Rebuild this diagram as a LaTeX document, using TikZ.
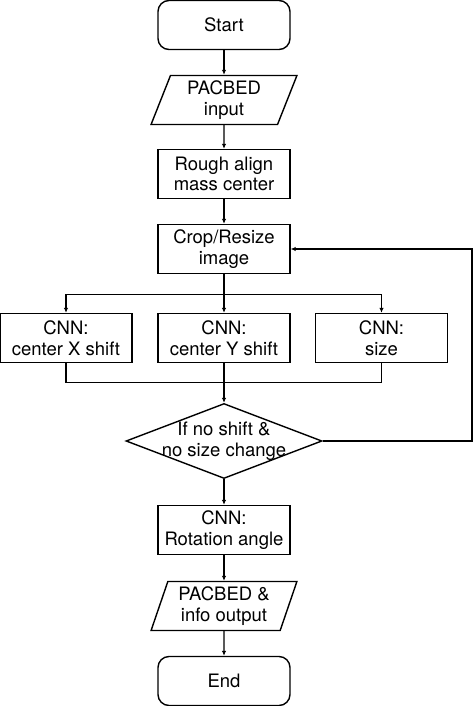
\documentclass[tikz,border=0pt]{standalone}
\usepackage{fontspec}
\setmainfont{TeX Gyre Heros}
\usetikzlibrary{shapes.geometric,arrows.meta}

\begin{document}
\begin{tikzpicture}[node distance=75pt, font=\fontsize{18.5}{20.5}\selectfont]

            % Styly uzlů a šipek
            \tikzstyle{startstop} = [rectangle, rounded corners=11pt, minimum width=132pt, minimum height=49pt, text centered, draw=black, line width=1.4pt]
            \tikzstyle{process} = [rectangle, minimum width=132pt, minimum height=49pt, align=center, draw=black, line width=1.4pt]
            \tikzstyle{data} = [trapezium, trapezium left angle=72, trapezium right angle=108, trapezium stretches=true, minimum width=146pt, minimum height=49pt, align=center, draw=black, line width=1.4pt]
            \tikzstyle{decision} = [diamond, minimum width=196pt, minimum height=75pt, inner sep=0pt, draw=black, line width=1.4pt]
            \tikzstyle{arrow} = [line width=1.4pt, -{Latex[length=5pt,width=4.5pt]}]
            \tikzstyle{line} = [line width=1.4pt]

            \useasboundingbox (-224pt,25pt) rectangle (250pt,-681pt);

            % Uzly diagramu
            \node (start) [startstop] {Start};
            \node (input) [data, below of=start] {PACBED\\input};
            \node (rough) [process, below of=input, yshift=1pt] {Rough align\\mass center};
            \node (crop) [process, below of=rough] {Crop/Resize\\image};
            \node (cnny) [process, below of=crop, yshift=-14pt] {CNN:\\center Y shift};
            \node (cnnx) [process, left of=cnny, xshift=-83pt] {CNN:\\center X shift};
            \node (cnns) [process, right of=cnny, xshift=82.5pt] {CNN:\\size};
            \node (decide) [decision, below of=cnny, yshift=-28pt, label={[align=center]center:If no shift \&\\no size change}] {};
            \node (rotation) [process, below of=decide, yshift=-14pt] {CNN:\\Rotation angle};
            \node (output) [data, below of=rotation, yshift=-1pt] {PACBED \&\\info output};
            \node (end) [startstop, below of=output] {End};

            % Pomocné body
            \coordinate (split) at ([yshift=-20pt]crop.south);
            \coordinate (merge) at ([yshift=-19pt]cnny.south);
            \coordinate (loop) at (248pt,0);

            % Šipky propojující uzly
            \draw [arrow] (start) -- (input);
            \draw [arrow] (input) -- (rough);
            \draw [arrow] (rough) -- (crop);
            \draw [line] (crop.south) -- (split);
            \draw [arrow] (split) -| (cnnx.north);
            \draw [arrow] (split) -- (cnny.north);
            \draw [arrow] (split) -| (cnns.north);
            \draw [line] (cnnx.south) |- (merge) -| (cnns.south);
            \draw [arrow] (cnny.south) -- (decide.north);
            \draw [arrow] (decide.east) -- (decide.east -| loop) |- (crop.east);
            \draw [arrow] (decide.south) -- (rotation);
            \draw [arrow] (rotation) -- (output);
            \draw [arrow] (output) -- (end);

\end{tikzpicture}
\end{document}
